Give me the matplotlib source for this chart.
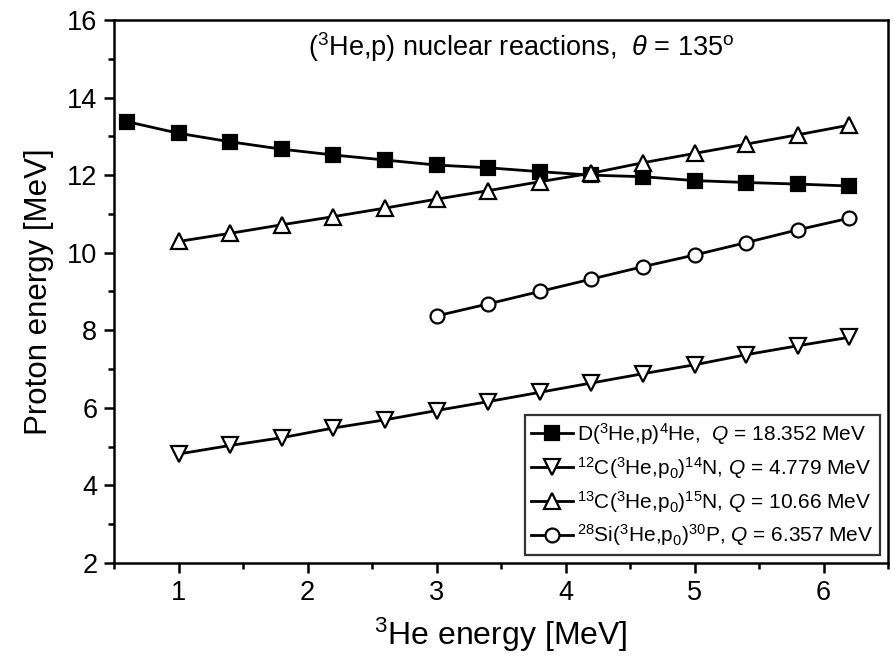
import matplotlib
matplotlib.use("Agg")
import matplotlib.pyplot as plt
from matplotlib.ticker import MultipleLocator

plt.rcParams['font.family'] = ['Liberation Sans', 'DejaVu Sans']
plt.rcParams['mathtext.fontset'] = 'custom'
plt.rcParams['mathtext.rm'] = 'Liberation Sans'
plt.rcParams['mathtext.it'] = 'Liberation Sans:italic'

# энергия 3He, МэВ
x_d = [0.6, 1.0, 1.4, 1.8, 2.2, 2.6, 3.0, 3.4, 3.8, 4.2, 4.6, 5.0, 5.4, 5.8, 6.2]
x_c = [1.0, 1.4, 1.8, 2.2, 2.6, 3.0, 3.4, 3.8, 4.2, 4.6, 5.0, 5.4, 5.8, 6.2]
x_si = [3.0, 3.4, 3.8, 4.2, 4.6, 5.0, 5.4, 5.8, 6.2]

# энергия протонов, МэВ
y_d = [13.38, 13.08, 12.86, 12.67, 12.52, 12.39, 12.26, 12.19, 12.09,
       12.00, 11.96, 11.86, 11.81, 11.77, 11.72]
y_c12 = [4.81, 5.03, 5.23, 5.48, 5.69, 5.93, 6.16, 6.40,
         6.64, 6.88, 7.11, 7.37, 7.60, 7.82]
y_c13 = [10.29, 10.50, 10.72, 10.93, 11.15, 11.38, 11.60, 11.83,
         12.05, 12.32, 12.56, 12.80, 13.04, 13.29]
y_si = [8.37, 8.68, 9.00, 9.32, 9.64, 9.94, 10.26, 10.59, 10.89]

labels = [
    r'D($^3$He,p)$^4$He,  $Q$ = 18.352 MeV',
    r'$^{12}$C($^3$He,p$_0$)$^{14}$N, $Q$ = 4.779 MeV',
    r'$^{13}$C($^3$He,p$_0$)$^{15}$N, $Q$ = 10.66 MeV',
    r'$^{28}$Si($^3$He,p$_0$)$^{30}$P, $Q$ = 6.357 MeV',
]

fig = plt.figure(figsize=(8.93, 6.56), dpi=100)
ax = fig.add_axes([0.1277, 0.1418, 0.8667, 0.8277])

common = dict(color='black', linewidth=2.0, markeredgewidth=1.6)
ax.plot(x_d, y_d, marker='s', markersize=10.5, markerfacecolor='black', label=labels[0], **common)
ax.plot(x_c, y_c12, marker='v', markersize=11.5, markerfacecolor='white', label=labels[1], **common)
ax.plot(x_c, y_c13, marker='^', markersize=11.5, markerfacecolor='white', label=labels[2], **common)
ax.plot(x_si, y_si, marker='o', markersize=10, markerfacecolor='white', label=labels[3], **common)

ax.set_xlim(0.5, 6.5)
ax.set_ylim(2, 16)
ax.xaxis.set_major_locator(MultipleLocator(1))
ax.xaxis.set_minor_locator(MultipleLocator(0.5))
ax.yaxis.set_major_locator(MultipleLocator(2))
ax.yaxis.set_minor_locator(MultipleLocator(1))
ax.tick_params(which='major', direction='out', length=7, width=1.8, labelsize=19.5, pad=5)
ax.tick_params(which='minor', direction='out', length=4, width=1.8)
for s in ax.spines.values():
    s.set_linewidth(1.8)

ax.set_xlabel(r'$^3$He energy [MeV]', fontsize=23, labelpad=7)
ax.set_ylabel('Proton energy [MeV]', fontsize=22.5, labelpad=9)

ax.text(0.526, 0.95, r'($^3$He,p) nuclear reactions,  $\theta$ = 135$^{\rm o}$',
        transform=ax.transAxes, ha='center', va='center', fontsize=19.5)

leg = ax.legend(loc='lower right', fontsize=15, frameon=True, fancybox=False,
                edgecolor='black', handlelength=2.0, handletextpad=0.2,
                labelspacing=0.38, borderpad=0.3, borderaxespad=0.4)
leg.get_frame().set_linewidth(1.6)

plt.savefig('out.png', dpi=100)
